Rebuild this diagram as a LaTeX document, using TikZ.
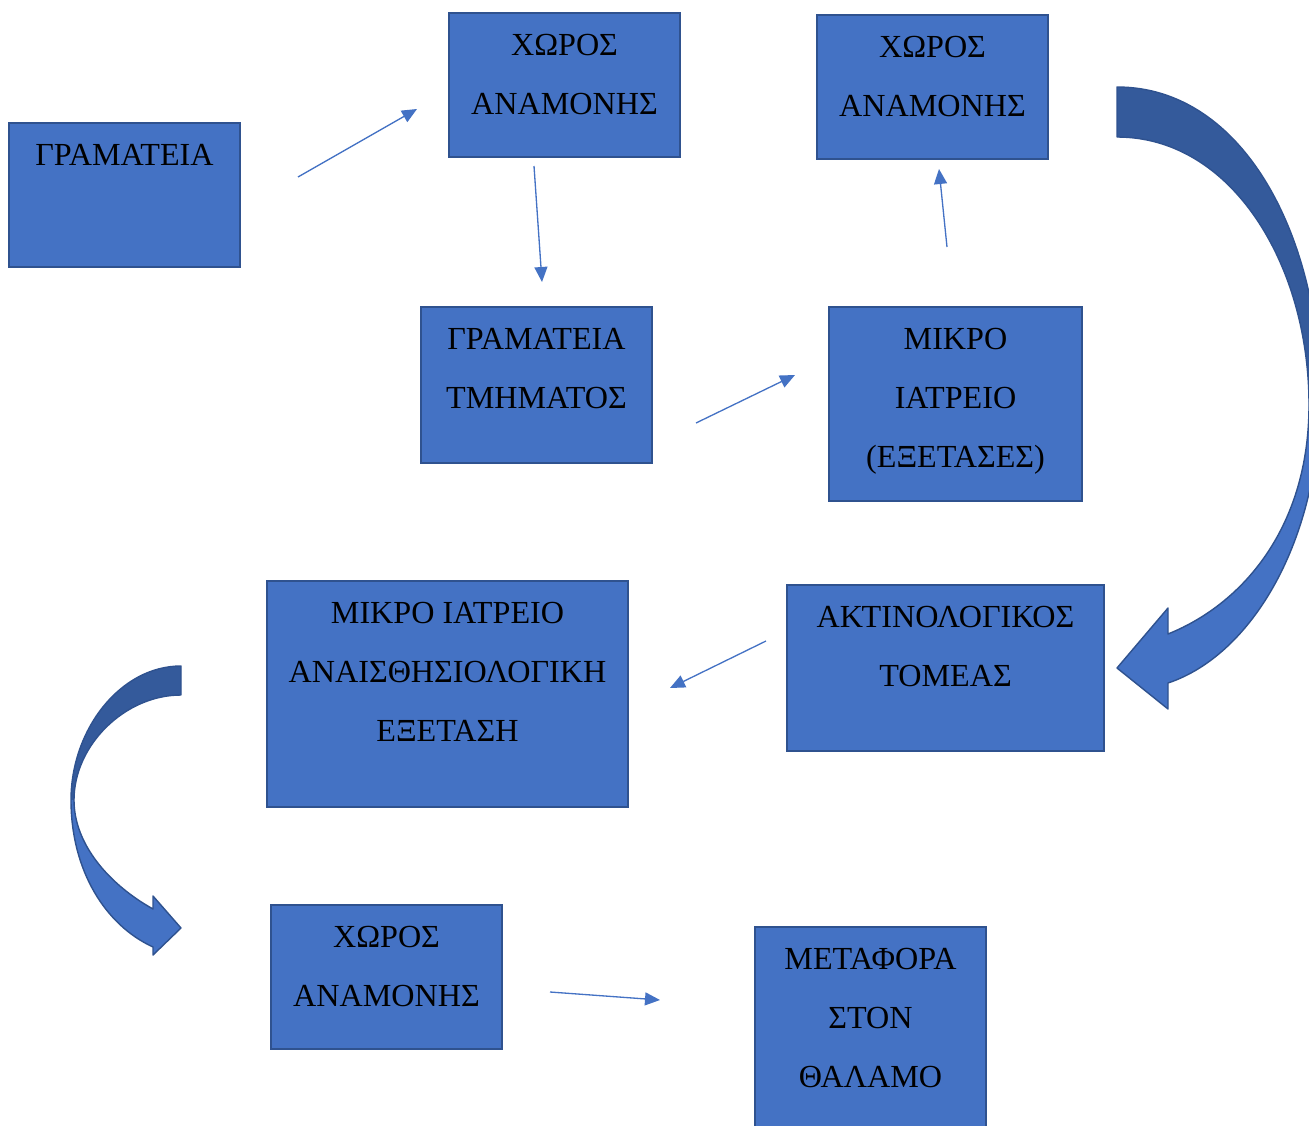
\documentclass[tikz,border=0pt]{standalone}
\usepackage{fontspec}
\setmainfont{Liberation Serif}
\usetikzlibrary{arrows.meta,calc}
\definecolor{boxfill}{HTML}{4472C4}
\definecolor{boxline}{HTML}{2F528F}
\definecolor{darkband}{RGB}{52,90,155}
\begin{document}
\begin{tikzpicture}[x=0.02cm,y=-0.02cm,
  box/.style={draw=boxline, line width=1.1pt, fill=boxfill, rectangle, inner sep=0pt},
  boxtext/.style={anchor=north, inner sep=0pt, align=center, font=\fontsize{18.3}{33.6}\selectfont, text=black},
  flow/.style={draw=boxfill, line width=0.75pt, -{Triangle[length=0.3cm,width=0.26cm]}},
  bandedge/.style={draw=boxline, line width=0.8pt, line join=round}]
\useasboundingbox (0,0) rectangle (1309,1126);

% boxes
\node[box, minimum width=4.62cm, minimum height=2.88cm] (b1) at (124.5,195) {};
\node[box, minimum width=4.62cm, minimum height=2.88cm] (b2) at (564.5,85) {};
\node[box, minimum width=4.62cm, minimum height=2.88cm] (b3) at (932.5,87) {};
\node[box, minimum width=4.62cm, minimum height=3.12cm] (b4) at (536.5,385) {};
\node[box, minimum width=5.06cm, minimum height=3.88cm] (b5) at (955.5,404) {};
\node[box, minimum width=7.22cm, minimum height=4.52cm] (b6) at (447.5,694) {};
\node[box, minimum width=6.34cm, minimum height=3.32cm] (b7) at (945.5,668) {};
\node[box, minimum width=4.62cm, minimum height=2.88cm] (b8) at (386.5,977) {};
\node[box, minimum width=4.62cm, minimum height=4.26cm] (b9) at (870.5,1033.5) {};

% texts
\node[boxtext] (t1) at ($(b1.north)+(0,22)$) {ΓΡΑΜΑΤΕΙΑ};
\node[boxtext] (t2) at ($(b2.north)+(0,22)$) {ΧΩΡΟΣ\\ΑΝΑΜΟΝΗΣ};
\node[boxtext] (t3) at ($(b3.north)+(0,22)$) {ΧΩΡΟΣ\\ΑΝΑΜΟΝΗΣ};
\node[boxtext] (t4) at ($(b4.north)+(0,22)$) {ΓΡΑΜΑΤΕΙΑ\\ΤΜΗΜΑΤΟΣ};
\node[boxtext] (t5) at ($(b5.north)+(0,22)$) {ΜΙΚΡΟ\\ΙΑΤΡΕΙΟ\\(ΕΞΕΤΑΣΕΣ)};
\node[boxtext] (t6) at ($(b6.north)+(0,22)$) {ΜΙΚΡΟ ΙΑΤΡΕΙΟ\\ΑΝΑΙΣΘΗΣΙΟΛΟΓΙΚΗ\\ΕΞΕΤΑΣΗ};
\node[boxtext] (t7) at ($(b7.north)+(0,22)$) {ΑΚΤΙΝΟΛΟΓΙΚΟΣ\\ΤΟΜΕΑΣ};
\node[boxtext] (t8) at ($(b8.north)+(0,22)$) {ΧΩΡΟΣ\\ΑΝΑΜΟΝΗΣ};
\node[boxtext] (t9) at ($(b9.north)+(0,22)$) {ΜΕΤΑΦΟΡΑ\\ΣΤΟΝ\\ΘΑΛΑΜΟ};

% straight connectors (free-floating ends)
\coordinate (a1s) at (298,177); \coordinate (a1e) at (417,109);
\coordinate (a2s) at (534,166); \coordinate (a2e) at (542,282);
\coordinate (a3s) at (696,423); \coordinate (a3e) at (795,375);
\coordinate (a4s) at (947,247); \coordinate (a4e) at (939,169);
\coordinate (a5s) at (766,641); \coordinate (a5e) at (670,688);
\coordinate (a6s) at (550,992); \coordinate (a6e) at (660,1000);
\draw[flow] (a1s) -- (a1e);
\draw[flow] (a2s) -- (a2e);
\draw[flow] (a3s) -- (a3e);
\draw[flow] (a4s) -- (a4e);
\draw[flow] (a5s) -- (a5e);
\draw[flow] (a6s) -- (a6e);

% right curved block arrow
\fill[darkband] (1117,87) .. controls (1245,87) and (1320,240) .. (1320,395)
  -- (1309,405) .. controls (1309,265) and (1232,137) .. (1117,137) -- cycle;
\fill[boxfill] (1320,395) .. controls (1320,540) and (1252,655) .. (1168,683)
  -- (1168,709) -- (1117,668) -- (1168,608) -- (1168,634)
  .. controls (1245,603) and (1309,525) .. (1309,405) -- cycle;
\draw[bandedge] (1117,87) .. controls (1245,87) and (1320,240) .. (1320,395)
  .. controls (1320,540) and (1252,655) .. (1168,683)
  -- (1168,709) -- (1117,668) -- (1168,608) -- (1168,634)
  .. controls (1245,603) and (1309,525) .. (1309,405)
  .. controls (1309,265) and (1232,137) .. (1117,137) -- cycle;

% left curved block arrow
\fill[darkband] (181,666) .. controls (120,666) and (71,730) .. (71,800)
  -- (74,800) .. controls (74,745) and (125,695) .. (181,695) -- cycle;
\fill[boxfill] (71,800) .. controls (71,870) and (105,925) .. (153,947)
  -- (153,955) -- (181,928) -- (153,896) -- (153,909)
  .. controls (110,885) and (74,845) .. (74,800) -- cycle;
\draw[bandedge] (181,666) .. controls (120,666) and (71,730) .. (71,800)
  .. controls (71,870) and (105,925) .. (153,947)
  -- (153,955) -- (181,928) -- (153,896) -- (153,909)
  .. controls (110,885) and (74,845) .. (74,800)
  .. controls (74,745) and (125,695) .. (181,695) -- cycle;
\end{tikzpicture}
\end{document}
